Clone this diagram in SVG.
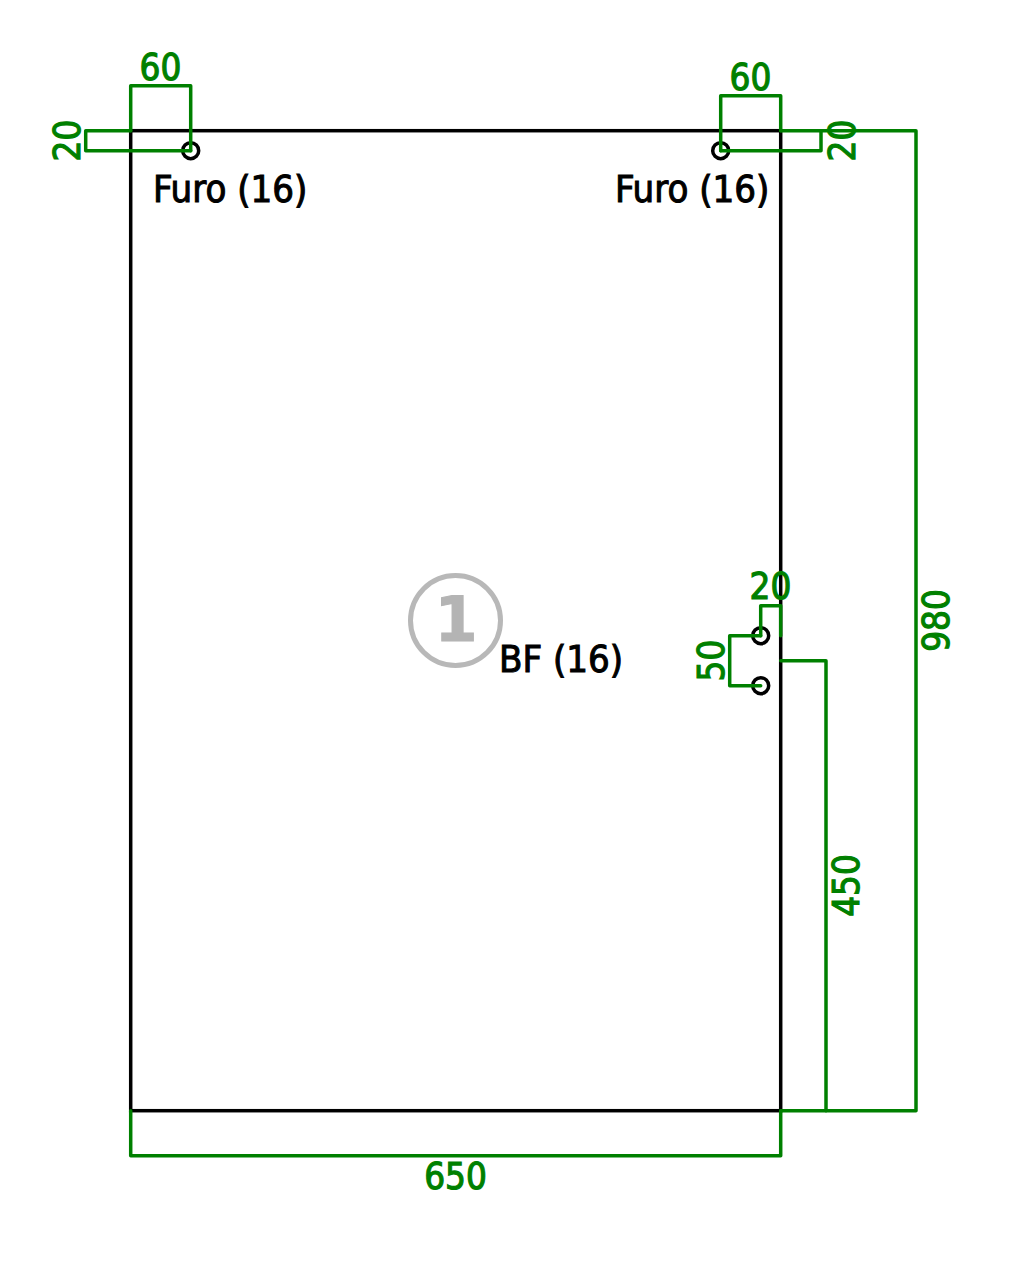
<svg xmlns="http://www.w3.org/2000/svg" width="1029" height="1269" viewBox="0 0 1029 1269">
<style>
.dim{fill:none;stroke:#008000;stroke-width:3.5;stroke-linejoin:round;stroke-linecap:round}
.part{fill:none;stroke:#000;stroke-width:3.5}
.d{fill:#008000;stroke:#008000;stroke-width:1.1;font-family:"DejaVu Sans Condensed","DejaVu Sans",sans-serif;font-stretch:condensed;font-size:36.5px;text-anchor:middle}
.l{fill:#000;stroke:#000;stroke-width:1;font-family:"DejaVu Sans Condensed","DejaVu Sans",sans-serif;font-stretch:condensed;font-size:38px}
</style>
<rect width="1029" height="1269" fill="#fff"/>
<g id="panel"><rect class="part" x="130.7" y="130.7" width="650" height="980"/></g>
<g id="hole-1"><circle class="part" cx="190.7" cy="150.7" r="8"/><text class="l" x="153" y="202">Furo (16)</text></g>
<g id="hole-2"><circle class="part" cx="720.7" cy="150.7" r="8"/><text class="l" x="615" y="202">Furo (16)</text></g>
<g id="hole-3"><circle class="part" cx="760.7" cy="635.7" r="8"/></g>
<g id="hole-4"><circle class="part" cx="760.7" cy="685.7" r="8"/><text class="l" x="499" y="672">BF (16)</text></g>
<g id="badge"><circle cx="455.5" cy="620.5" r="45" fill="none" stroke="#b8b8b8" stroke-width="5"/><text x="456" y="641" fill="#b4b4b4" stroke="#b4b4b4" stroke-width="1" font-family="DejaVu Sans" font-weight="bold" font-size="62" text-anchor="middle">1</text></g>
<g id="connectors">
<path class="dim" d="M130.7 130.7V85.7H190.7V150.7"/>
<path class="dim" d="M130.7 130.7H85.7V150.7H190.7"/>
<path class="dim" d="M720.7 150.7V95.7H780.7V130.7"/>
<path class="dim" d="M720.7 150.7H821V130.7"/>
<path class="dim" d="M780.7 130.7H916V1110.7H780.7"/>
<path class="dim" d="M760.7 635.7V605.7H780.7V635.7"/>
<path class="dim" d="M760.7 635.7H729.7V685.7H760.7"/>
<path class="dim" d="M780.7 660.7H826V1110.7"/>
<path class="dim" d="M130.7 1110.7V1155.7H780.7V1110.7"/>
</g>
<g id="dimension-labels">
<text class="d" x="160.5" y="80">60</text>
<text class="d" x="750.5" y="90">60</text>
<text class="d" x="770.5" y="599">20</text>
<text class="d" x="455.5" y="1189">650</text>
<text class="d" transform="translate(80 140.5) rotate(-90)">20</text>
<text class="d" transform="translate(855 140.5) rotate(-90)">20</text>
<text class="d" transform="translate(724 660.5) rotate(-90)">50</text>
<text class="d" transform="translate(859 885.5) rotate(-90)">450</text>
<text class="d" transform="translate(949 620.5) rotate(-90)">980</text>
</g>
</svg>
